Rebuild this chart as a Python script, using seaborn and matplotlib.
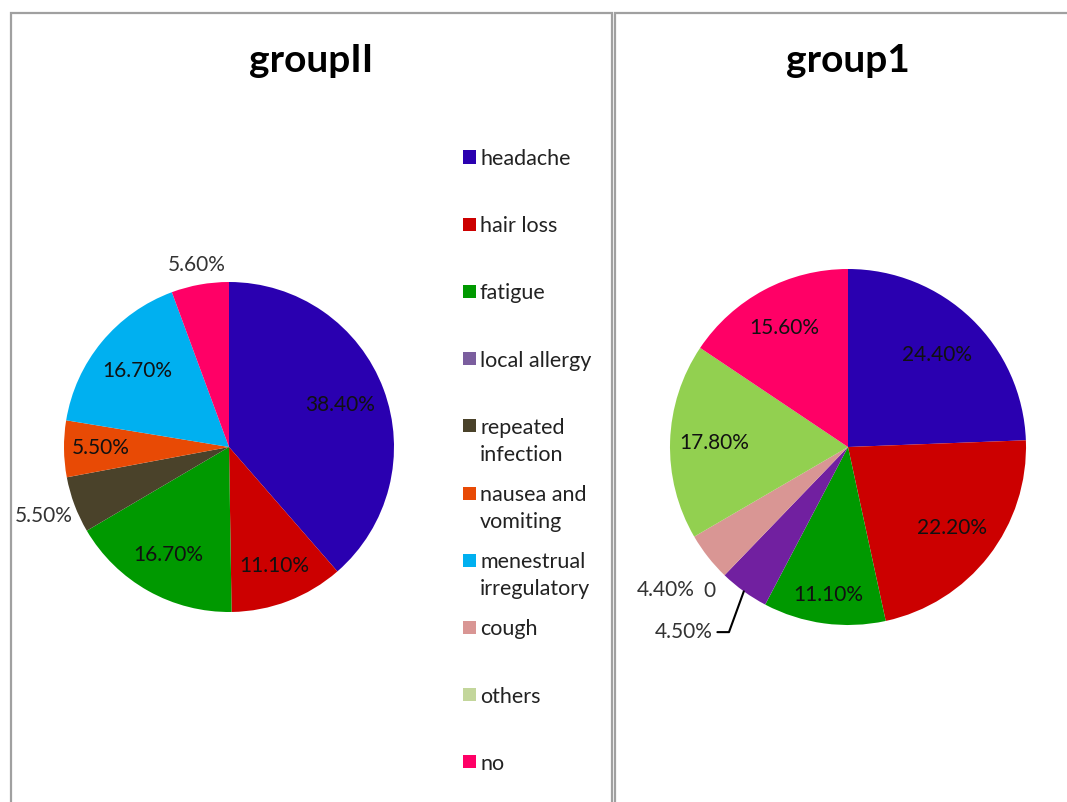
import matplotlib
matplotlib.use("Agg")
import matplotlib.pyplot as plt
from matplotlib.patches import Rectangle
import numpy as np
import seaborn as sns

# categories in the order the slices are drawn (clockwise from 12 o'clock)
categories = ["headache", "hair loss", "fatigue", "local allergy", "repeated\ninfection",
              "nausea and\nvomiting", "menestrual\nirregulatory", "cough", "others", "no"]

# percentages, None = no slice / no label
group2_pct = [38.4, 11.1, 16.7, None, 5.5, 5.5, 16.7, None, None, 5.6]
group1_pct = [24.4, 22.2, 11.1, 4.5, 0, None, None, 4.4, 17.8, 15.6]

group2_colors = ["#2A00B0", "#CC0000", "#009900", "#7B5E9E", "#4A422A",
                 "#E84A05", "#00B0F0", "#D99694", "#C3D69B", "#FF0066"]
group1_colors = ["#2A00B0", "#CC0000", "#009900", "#7120A0", "#4A422A",
                 "#E84A05", "#00B0F0", "#D99694", "#92D050", "#FF0066"]

# label distance from centre (in pie radii) per slice
group2_label_r = [0.72, 0.77, 0.75, 0, 1.2, 0.78, 0.72, 0, 0, 1.12]
group1_label_r = [0.72, 0.74, 0.84, 0, 1.12, 0, 0, 1.3, 0.75, 0.76]

sns.set_theme(style="white")
plt.rcParams["font.family"] = ["Lato", "DejaVu Sans"]

W, H = 1067, 802
LABEL_FS = 15
fig = plt.figure(figsize=(W / 100, H / 100), dpi=100)


def px_axes(cx, cy, r):
    return fig.add_axes([(cx - r) / W, (H - cy - r) / H, 2 * r / W, 2 * r / H])


def fmt(v):
    if v is None:
        return None
    if v == 0:
        return "0"
    return f"{v:.2f}%"


def draw_pie(ax, pct, colors, label_r, skip=()):
    vals = [0 if v is None else v for v in pct]
    wedges, _ = ax.pie(vals, colors=colors, startangle=90, counterclock=False,
                       wedgeprops=dict(linewidth=0), radius=1.0)
    ax.set_xlim(-1, 1)
    ax.set_ylim(-1, 1)
    ax.set_aspect("equal")
    ax.axis("off")
    for i, w in enumerate(wedges):
        txt = fmt(pct[i])
        if txt is None or i in skip:
            continue
        mid = np.deg2rad((w.theta1 + w.theta2) / 2)
        r = label_r[i]
        col = "#111111" if r < 1 else "#333333"
        ax.text(r * np.cos(mid), r * np.sin(mid), txt, ha="center", va="center",
                fontsize=LABEL_FS, color=col)
    return wedges


# panel frames
fig.patches.append(Rectangle((11 / W, -0.05), (612 - 11) / W, 1.05 - 13 / H,
                             transform=fig.transFigure, fill=False,
                             edgecolor="#A0A0A0", linewidth=1.6))
fig.patches.append(Rectangle((615 / W, -0.05), 0.5, 1.05 - 13 / H,
                             transform=fig.transFigure, fill=False,
                             edgecolor="#A0A0A0", linewidth=1.6))

fig.text(311 / W, 1 - 61 / H, "groupII", ha="center", va="center",
         fontsize=28, fontweight="bold", color="black")
fig.text(848 / W, 1 - 61 / H, "group1", ha="center", va="center",
         fontsize=28, fontweight="bold", color="black")

ax_l = px_axes(229, 447, 165)
draw_pie(ax_l, group2_pct, group2_colors, group2_label_r)

ax_r = px_axes(848, 447, 178)
w_r = draw_pie(ax_r, group1_pct, group1_colors, group1_label_r, skip=(3,))

# local allergy label with leader line
w = w_r[3]
mid = np.deg2rad((w.theta1 + w.theta2) / 2)
ax_r.annotate(fmt(group1_pct[3]), xy=(np.cos(mid), np.sin(mid)),
              xytext=(-0.76, -1.04), ha="right", va="center", fontsize=LABEL_FS,
              color="#333333",
              arrowprops=dict(arrowstyle="-", color="black", lw=1.5,
                              shrinkA=1, shrinkB=0,
                              connectionstyle="angle,angleA=0,angleB=70"))

# legend for groupII drawn by hand (Excel style slots)
slot_top = 157
slot_step = 67.2
for i, cat in enumerate(categories):
    yc = slot_top + i * slot_step
    fig.patches.append(Rectangle((463 / W, 1 - (yc + 6.5) / H), 13 / W, 13 / H,
                                 transform=fig.transFigure,
                                 facecolor=group2_colors[i], edgecolor="none"))
    fig.text(480 / W, 1 - (yc - 8) / H, cat, ha="left", va="top",
             fontsize=15.5, color="#222222", linespacing=1.42)

fig.savefig("out.png", dpi=100, facecolor="white")
